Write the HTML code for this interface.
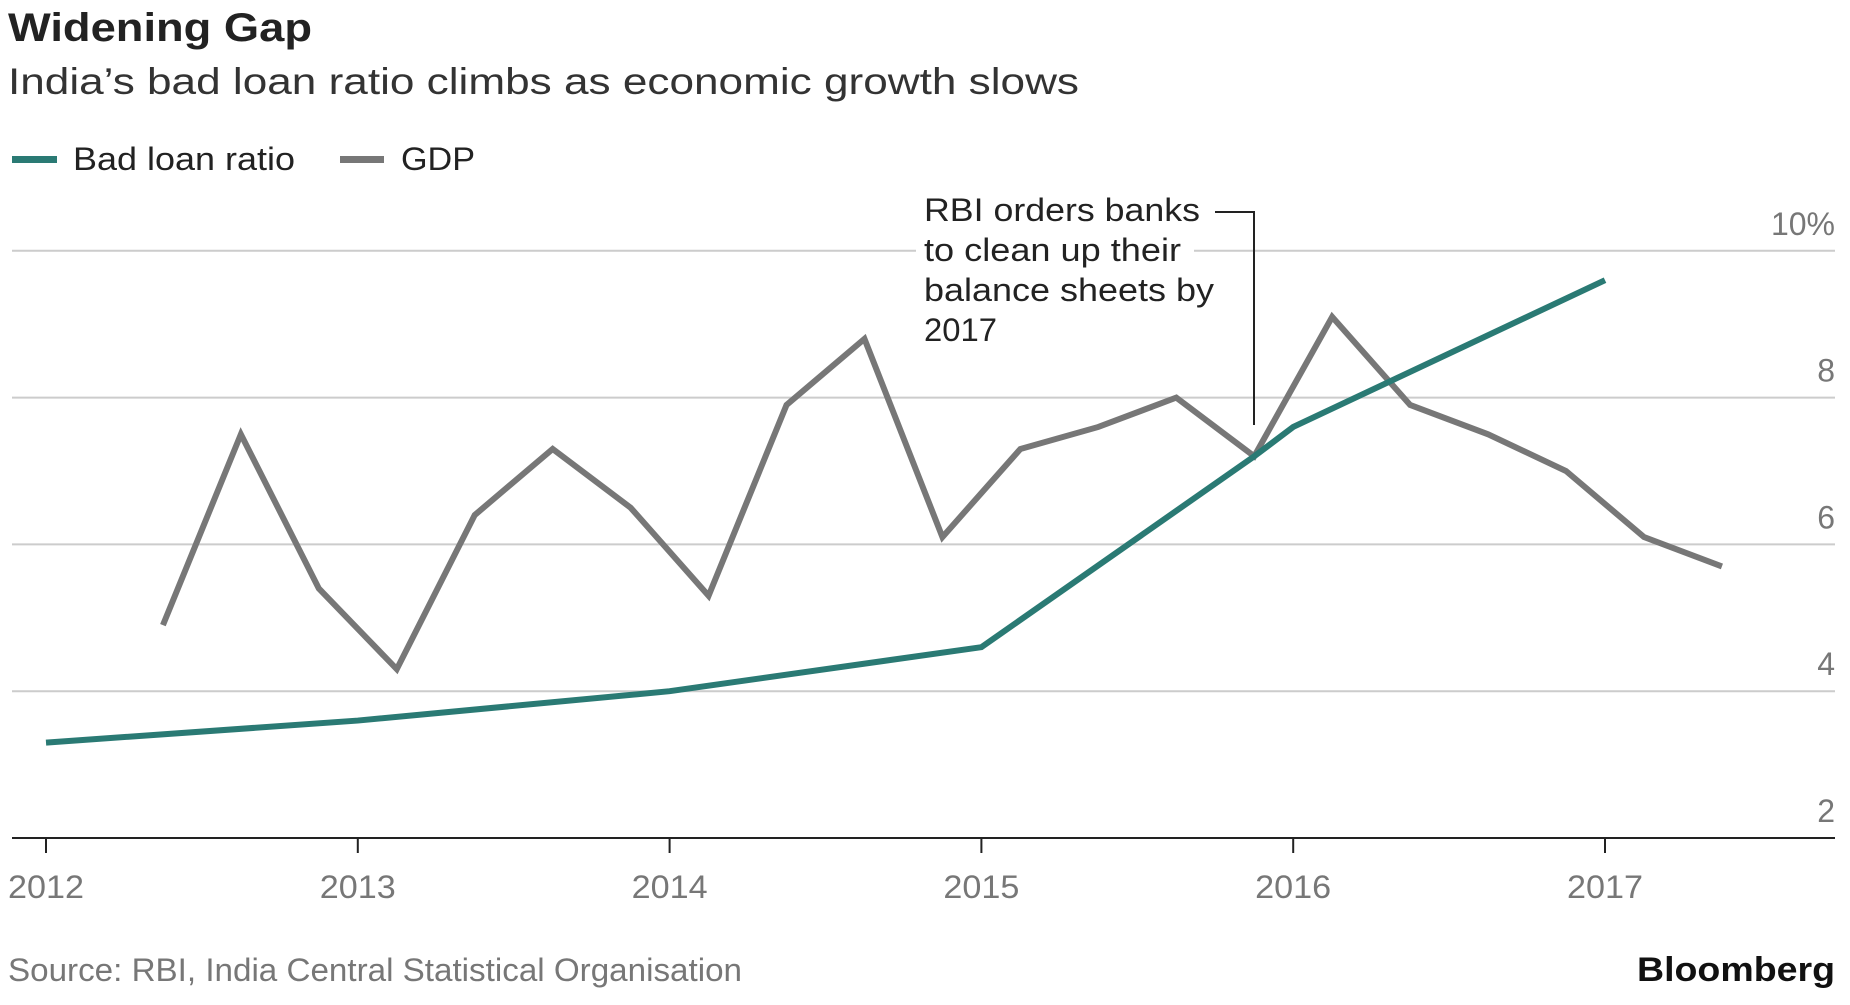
<!DOCTYPE html>
<html><head><meta charset="utf-8"><style>
html,body{margin:0;padding:0;background:#fff;}
body{width:1850px;height:1000px;overflow:hidden;font-family:"Liberation Sans",sans-serif;}
</style></head><body>
<svg width="1850" height="1000" xmlns="http://www.w3.org/2000/svg" font-family="Liberation Sans, sans-serif">
<text x="8" y="41" font-size="40" font-weight="bold" fill="#222" textLength="304" lengthAdjust="spacingAndGlyphs">Widening Gap</text>
<text x="8" y="94" font-size="37" fill="#333" textLength="1071" lengthAdjust="spacingAndGlyphs">India’s bad loan ratio climbs as economic growth slows</text>
<g>
<rect x="12" y="156" width="45" height="7" fill="#2a7a74"/>
<text x="73" y="170" font-size="32" fill="#222" textLength="222" lengthAdjust="spacingAndGlyphs">Bad loan ratio</text>
<rect x="340" y="156" width="44" height="7" fill="#777"/>
<text x="401" y="170" font-size="32" fill="#222" textLength="74" lengthAdjust="spacingAndGlyphs">GDP</text>
</g>
<g id="grid"></g>
<g id="annot">
<rect x="916" y="232" width="278" height="34" fill="#fff"/>
<text font-size="32" fill="#222">
<tspan x="924" y="221" textLength="276" lengthAdjust="spacingAndGlyphs">RBI orders banks</tspan>
<tspan x="924" y="261" textLength="257" lengthAdjust="spacingAndGlyphs">to clean up their</tspan>
<tspan x="924" y="301" textLength="290" lengthAdjust="spacingAndGlyphs">balance sheets by</tspan>
<tspan x="924" y="341" textLength="73" lengthAdjust="spacingAndGlyphs">2017</tspan></text>
<polyline points="1215,212 1254,212 1254,425" fill="none" stroke="#222" stroke-width="2"/>
</g>
<g id="series"></g>
<g id="xaxis"></g>
<text x="8" y="981" font-size="32" fill="#777" textLength="734" lengthAdjust="spacingAndGlyphs">Source: RBI, India Central Statistical Organisation</text>
<text x="1835" y="981" font-size="34" font-weight="bold" fill="#111" text-anchor="end" textLength="198" lengthAdjust="spacingAndGlyphs">Bloomberg</text>
</svg>
<script>
const yTicks=[2,4,6,8,10];
const yTickLabels=["2","4","6","8","10%"];
const xTicks=[2012,2013,2014,2015,2016,2017];
const badLoanDates=[2012,2013,2014,2015,2015.875,2016,2017];
const badLoanValues=[3.3,3.6,4.0,4.6,7.2,7.6,9.6];
const gdpDates=[2012.375,2012.625,2012.875,2013.125,2013.375,2013.625,2013.875,2014.125,2014.375,2014.625,2014.875,2015.125,2015.375,2015.625,2015.875,2016.125,2016.375,2016.625,2016.875,2017.125,2017.375];
const gdpValues=[4.9,7.5,5.4,4.3,6.4,7.3,6.5,5.3,7.9,8.8,6.1,7.3,7.6,8.0,7.2,9.1,7.9,7.5,7.0,6.1,5.7];

const NS="http://www.w3.org/2000/svg";
function xs(t){return 46+(t-2012)*311.8;}
function ys(v){return 838-(v-2)*73.4;}
function mk(tag,attrs,parent){const e=document.createElementNS(NS,tag);for(const k in attrs)e.setAttribute(k,attrs[k]);parent.appendChild(e);return e;}

const grid=document.getElementById('grid');
yTicks.forEach((v,i)=>{
  if(v>2){
    const l=mk('line',{x1:12,x2:1835,y1:ys(v),y2:ys(v),stroke:'#ccc','stroke-width':2},grid);
    
    
  }
  const t=mk('text',{x:1835,y:ys(v)-16,'font-size':32,fill:'#777','text-anchor':'end'},grid);
  t.textContent=yTickLabels[i];
  
  
});

const xa=document.getElementById('xaxis');
const ax=mk('line',{x1:12,x2:1835,y1:ys(2),y2:ys(2),stroke:'#222','stroke-width':2},xa);


xTicks.forEach(t=>{
  const tk=mk('line',{x1:xs(t),x2:xs(t),y1:ys(2),y2:ys(2)+15,stroke:'#222','stroke-width':2},xa);
  
  
  const lb=mk('text',{x:xs(t),y:898,'font-size':32,fill:'#777','text-anchor':'middle',textLength:76,lengthAdjust:'spacingAndGlyphs'},xa);
  lb.textContent=t;
  
  
});

const s=document.getElementById('series');
const gdp=mk('polyline',{points:gdpDates.map((d,i)=>xs(d)+','+ys(gdpValues[i])).join(' '),fill:'none',stroke:'#777','stroke-width':6},s);


const bl=mk('polyline',{points:badLoanDates.map((d,i)=>xs(d)+','+ys(badLoanValues[i])).join(' '),fill:'none',stroke:'#2a7a74','stroke-width':6},s);


</script>
</body></html>
